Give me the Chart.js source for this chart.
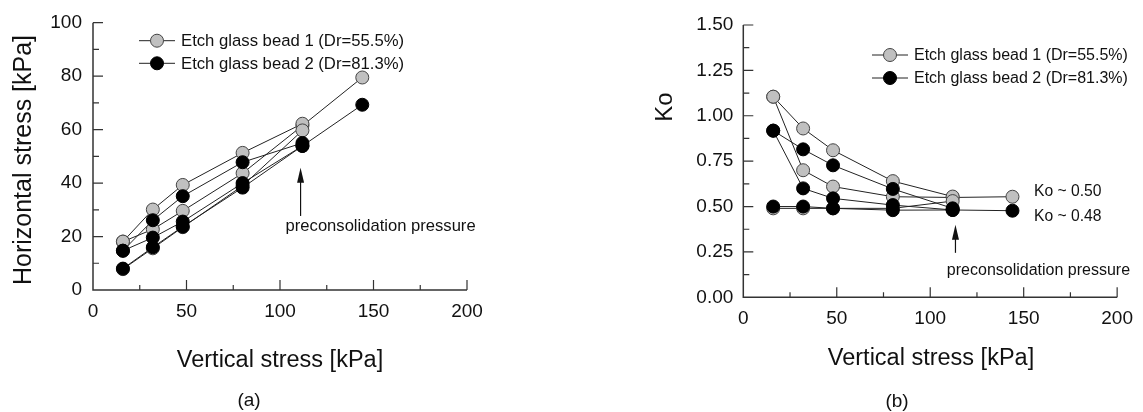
<!DOCTYPE html>
<html lang="en">
<head>
<meta charset="UTF-8">
<title>Ko test - glass beads</title>
<script src="https://cdn.jsdelivr.net/npm/chart.js"></script>
<style>
  body { margin: 0; background: #fff; }
  #wrap { position: relative; width: 1143px; height: 412px; }
  canvas { position: absolute; top: 0; }
  #chartA { left: 0; }
  #chartB { left: 571px; }
</style>
</head>
<body>
<div id="wrap">
  <canvas id="chartA" width="571" height="412"></canvas>
  <canvas id="chartB" width="572" height="412"></canvas>
</div>
<script>
// vertical stress steps [kPa] for each stage
const loadSteps   = [16, 32, 48, 80, 112];
const unloadSteps = [112, 80, 48, 32, 16];
const reloadSteps = [16, 32, 48, 80, 112, 144];

// (a) horizontal stress [kPa]
const bead1LoadH   = [7.8, 15.6, 23.5, 39.0, 59.7];
const bead1UnloadH = [62.2, 51.3, 39.3, 30.1, 18.1];
const bead1ReloadH = [18.1, 22.7, 29.6, 43.7, 61.5, 79.5];
const bead2LoadH   = [8.0, 16.0, 23.7, 38.3, 53.9];
const bead2UnloadH = [55.0, 47.8, 35.1, 26.1, 14.7];
const bead2ReloadH = [14.7, 19.6, 25.6, 40.0, 53.9, 69.3];

// (b) Ko
const bead1LoadK   = [0.49, 0.49, 0.49, 0.49, 0.53];
const bead1UnloadK = [0.555, 0.64, 0.81, 0.93, 1.105];
const bead1ReloadK = [1.105, 0.70, 0.61, 0.554, 0.55, 0.554];
const bead2LoadK   = [0.50, 0.50, 0.49, 0.48, 0.481];
const bead2UnloadK = [0.49, 0.597, 0.727, 0.815, 0.918];
const bead2ReloadK = [0.918, 0.60, 0.545, 0.508, 0.481, 0.477];

const legendLabels = ['Etch glass bead 1 (Dr=55.5%)', 'Etch glass bead 2 (Dr=81.3%)'];
const yTicksA = [0, 20, 40, 60, 80, 100];
const yTicksB = [0, 0.25, 0.5, 0.75, 1.0, 1.25, 1.5];
const xTicks  = [0, 50, 100, 150, 200];

const FONT = "'Liberation Sans', Arial, sans-serif";
const GRAY = '#c0c0c0';
const INK = '#111';

function pts(xs, ys) {
  return xs.map((x, i) => ({ x: x, y: ys[i] }));
}

// lines go underneath, markers on top; black markers over gray ones
function makeDatasets(paths) {
  const lines = paths.map(p => ({
    data: pts(p.xs, p.ys), showLine: true, borderColor: '#222', borderWidth: 1,
    pointRadius: 0, order: 2
  }));
  const marks = paths.map(p => ({
    data: pts(p.xs, p.ys), showLine: false, pointRadius: 6.5,
    pointBackgroundColor: p.fill, pointBorderColor: p.edge, pointBorderWidth: 1, order: 1
  }));
  return lines.concat(marks);
}

// axis lines with inward major/minor ticks
const axesPlugin = {
  id: 'axes',
  afterDraw(chart, args, o) {
    const { ctx, chartArea: a, scales: { x, y } } = chart;
    ctx.save();
    ctx.strokeStyle = '#333';
    ctx.lineWidth = 1.5;
    ctx.beginPath();
    ctx.moveTo(a.left, a.top);
    ctx.lineTo(a.left, a.bottom);
    ctx.lineTo(a.right, a.bottom);
    ctx.stroke();
    ctx.lineWidth = 1.2;
    ctx.beginPath();
    for (let i = 1; x.min + i * o.xMinor <= x.max + 1e-9; i++) {
      const px = x.getPixelForValue(x.min + i * o.xMinor);
      const len = i % 2 === 0 ? 10 : 5;
      ctx.moveTo(px, a.bottom);
      ctx.lineTo(px, a.bottom - len);
    }
    for (let i = 1; y.min + i * o.yMinor <= y.max + 1e-9; i++) {
      const py = y.getPixelForValue(y.min + i * o.yMinor);
      const len = i % 2 === 0 ? 10 : 6;
      ctx.moveTo(a.left, py);
      ctx.lineTo(a.left + len, py);
    }
    ctx.stroke();
    ctx.restore();
  }
};

// legend, titles, arrow and notes
const notesPlugin = {
  id: 'notes',
  afterDraw(chart, args, o) {
    const { ctx, scales: { x, y } } = chart;
    ctx.save();
    ctx.fillStyle = INK;

    // legend
    const fills = [GRAY, '#000'];
    const edges = ['#444', '#000'];
    legendLabels.forEach((txt, i) => {
      const ly = o.legend.y + i * o.legend.gap;
      ctx.strokeStyle = '#222';
      ctx.lineWidth = 1;
      ctx.beginPath();
      ctx.moveTo(o.legend.x, ly);
      ctx.lineTo(o.legend.x + 36, ly);
      ctx.stroke();
      ctx.beginPath();
      ctx.arc(o.legend.x + 18, ly, 6.5, 0, Math.PI * 2);
      ctx.fillStyle = fills[i];
      ctx.fill();
      ctx.strokeStyle = edges[i];
      ctx.stroke();
      ctx.fillStyle = INK;
      ctx.font = o.legend.size + 'px ' + FONT;
      ctx.textAlign = 'left';
      ctx.textBaseline = 'middle';
      ctx.fillText(txt, o.legend.x + 42, ly + 1);
    });

    // arrow at the preconsolidation pressure
    const ax = x.getPixelForValue(o.arrow.x);
    const tip = y.getPixelForValue(o.arrow.tip);
    const base = y.getPixelForValue(o.arrow.base);
    ctx.strokeStyle = '#111';
    ctx.lineWidth = 1.2;
    ctx.beginPath();
    ctx.moveTo(ax, base);
    ctx.lineTo(ax, tip + 10);
    ctx.stroke();
    ctx.beginPath();
    ctx.moveTo(ax, tip);
    ctx.lineTo(ax - 3.5, tip + 15);
    ctx.lineTo(ax + 3.5, tip + 15);
    ctx.closePath();
    ctx.fill();

    ctx.textAlign = 'left';
    ctx.textBaseline = 'middle';
    o.texts.forEach(t => {
      ctx.font = t.size + 'px ' + FONT;
      ctx.fillText(t.text, x.getPixelForValue(t.x), y.getPixelForValue(t.y));
    });

    // axis titles and panel label
    ctx.textAlign = 'center';
    ctx.font = '23.5px ' + FONT;
    ctx.fillText('Vertical stress [kPa]', o.xTitle.x, o.xTitle.y);
    ctx.font = '19px ' + FONT;
    ctx.fillText(o.panel.text, o.panel.x, o.panel.y);
    ctx.save();
    ctx.translate(o.yTitle.x, o.yTitle.y);
    ctx.rotate(-Math.PI / 2);
    ctx.font = o.yTitle.size + 'px ' + FONT;
    ctx.fillText(o.yTitle.text, 0, 0);
    ctx.restore();
    ctx.restore();
  }
};

function baseScales(yMax, yStep, yPad, fmt) {
  return {
    x: {
      type: 'linear', min: 0, max: 200,
      grid: { display: false, drawTicks: false }, border: { display: false },
      afterBuildTicks: s => { s.ticks = xTicks.map(v => ({ value: v })); },
      afterFit: s => { s.height = 40; },
      ticks: { padding: 10, color: INK, font: { family: FONT, size: 19 } }
    },
    y: {
      type: 'linear', min: 0, max: yMax,
      grid: { display: false, drawTicks: false }, border: { display: false },
      afterFit: s => { s.width = 60; },
      ticks: { stepSize: yStep, padding: yPad, color: INK, font: { family: FONT, size: 19 }, callback: fmt }
    }
  };
}

const commonOpts = {
  responsive: false,
  animation: false,
  events: []
};

new Chart(document.getElementById('chartA'), {
  type: 'scatter',
  data: {
    datasets: makeDatasets([
      { xs: loadSteps,   ys: bead2LoadH,   fill: '#000', edge: '#000' },
      { xs: unloadSteps, ys: bead2UnloadH, fill: '#000', edge: '#000' },
      { xs: reloadSteps, ys: bead2ReloadH, fill: '#000', edge: '#000' },
      { xs: loadSteps,   ys: bead1LoadH,   fill: GRAY, edge: '#444' },
      { xs: unloadSteps, ys: bead1UnloadH, fill: GRAY, edge: '#444' },
      { xs: reloadSteps, ys: bead1ReloadH, fill: GRAY, edge: '#444' }
    ])
  },
  options: Object.assign({}, commonOpts, {
    layout: { padding: { left: 33, right: 104, top: 22.7, bottom: 82 } },
    scales: baseScales(100, 20, 11, v => v),
    plugins: {
      legend: { display: false },
      tooltip: { enabled: false },
      axes: { xMinor: 25, yMinor: 10 },
      notes: {
        legend: { x: 139, y: 40.7, gap: 22.6, size: 16.7 },
        arrow: { x: 111, tip: 45.7, base: 27.7 },
        texts: [{ text: 'preconsolidation pressure', x: 103, y: 23.7, size: 16.6 }],
        xTitle: { x: 280, y: 361 },
        yTitle: { text: 'Horizontal stress [kPa]', x: 24, y: 160, size: 25 },
        panel: { text: '(a)', x: 249, y: 401 }
      }
    }
  }),
  plugins: [axesPlugin, notesPlugin]
});

new Chart(document.getElementById('chartB'), {
  type: 'scatter',
  data: {
    datasets: makeDatasets([
      { xs: loadSteps,   ys: bead2LoadK,   fill: '#000', edge: '#000' },
      { xs: unloadSteps, ys: bead2UnloadK, fill: '#000', edge: '#000' },
      { xs: reloadSteps, ys: bead2ReloadK, fill: '#000', edge: '#000' },
      { xs: loadSteps,   ys: bead1LoadK,   fill: GRAY, edge: '#444' },
      { xs: unloadSteps, ys: bead1UnloadK, fill: GRAY, edge: '#444' },
      { xs: reloadSteps, ys: bead1ReloadK, fill: GRAY, edge: '#444' }
    ])
  },
  options: Object.assign({}, commonOpts, {
    layout: { padding: { left: 112.3, right: 23.7, top: 25, bottom: 74.7 } },
    scales: baseScales(1.5, 0.25, 10, v => Number(v).toFixed(2)),
    plugins: {
      legend: { display: false },
      tooltip: { enabled: false },
      axes: { xMinor: 25, yMinor: 0.125 },
      notes: {
        legend: { x: 301, y: 55, gap: 23, size: 16 },
        arrow: { x: 113.5, tip: 0.40, base: 0.245 },
        texts: [
          { text: 'Ko ~ 0.50', x: 155.5, y: 0.582, size: 15.7 },
          { text: 'Ko ~ 0.48', x: 155.5, y: 0.444, size: 15.7 },
          { text: 'preconsolidation pressure', x: 108.9, y: 0.147, size: 16 }
        ],
        xTitle: { x: 360, y: 359 },
        yTitle: { text: 'Ko', x: 94, y: 107, size: 24 },
        panel: { text: '(b)', x: 326, y: 402 }
      }
    }
  }),
  plugins: [axesPlugin, notesPlugin]
});
</script>
</body>
</html>
